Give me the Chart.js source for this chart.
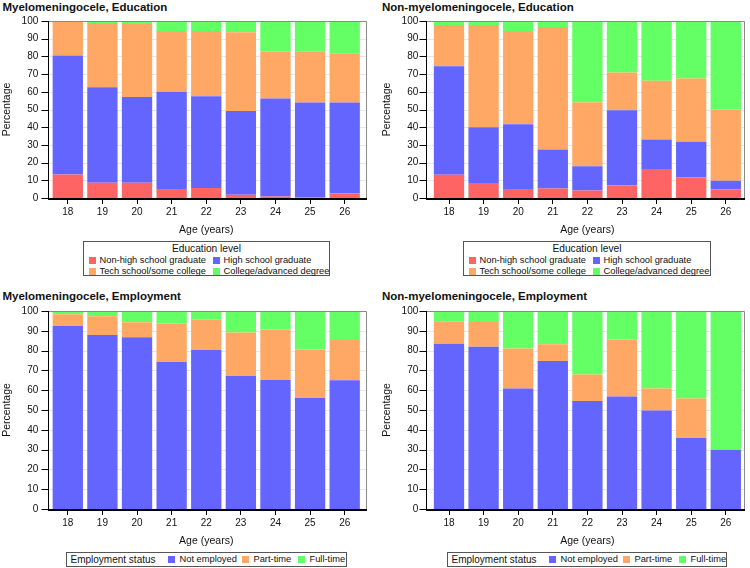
<!DOCTYPE html>
<html><head><meta charset="utf-8">
<script src="https://cdn.jsdelivr.net/npm/chart.js@4"></script>
<style>
body{margin:0;width:750px;height:568px;background:#fff;position:relative;overflow:hidden;font-family:"Liberation Sans",Arial,sans-serif;color:#111}
.t{position:absolute;font-weight:bold;font-size:11.5px;line-height:14px;white-space:nowrap}
canvas{position:absolute}
.lg{position:absolute;border:1px solid #555;box-sizing:border-box;white-space:nowrap}
.lg span{position:absolute;line-height:11px}
.lg i{position:absolute;width:7px;height:7px}
</style>
</head><body>
<div class="t" style="left:2.5px;top:0px">Myelomeningocele, Education</div>
<div class="t" style="left:382px;top:0px">Non-myelomeningocele, Education</div>
<div class="t" style="left:2.5px;top:289px">Myelomeningocele, Employment</div>
<div class="t" style="left:382px;top:289px">Non-myelomeningocele, Employment</div>
<canvas id="c1" width="375" height="236" style="left:0;top:0"></canvas>
<canvas id="c2" width="375" height="236" style="left:375px;top:0"></canvas>
<canvas id="c3" width="375" height="257" style="left:0;top:290px"></canvas>
<canvas id="c4" width="375" height="257" style="left:375px;top:290px"></canvas>
<div id="l1" class="lg" style="left:83px;top:241px;width:247px;height:35px"></div>
<div id="l2" class="lg" style="left:463px;top:241px;width:248px;height:35px"></div>
<div id="l3" class="lg" style="left:66px;top:552px;width:281px;height:15px"></div>
<div id="l4" class="lg" style="left:447px;top:552px;width:280px;height:15px"></div>
<script>
const ages = ['18','19','20','21','22','23','24','25','26'];
const yTicks = [0,10,20,30,40,50,60,70,80,90,100];
const eduLevels = ['Non-high school graduate','High school graduate','Tech school/some college','College/advanced degree'];
const empLevels = ['Not employed','Part-time','Full-time'];
const eduTitle = 'Education level';
const empTitle = 'Employment status';

const myeloEduNonHS   = [13.3, 8.6, 8.6, 5.1, 5.6, 1.9, 0.8, 0.4, 2.6];
const myeloEduHS      = [67.2, 54.0, 48.4, 54.9, 51.9, 47.3, 55.4, 53.6, 51.4];
const myeloEduTech    = [19.5, 36.3, 41.3, 34.4, 36.9, 44.4, 26.5, 28.9, 27.8];
const myeloEduCollege = [0, 1.1, 1.7, 5.6, 5.6, 6.4, 17.3, 17.1, 18.2];

const nonMyeloEduNonHS   = [13.2, 8.5, 5.1, 5.3, 4.3, 7.1, 16.4, 11.7, 4.9];
const nonMyeloEduHS      = [61.2, 31.5, 36.6, 22.1, 13.7, 42.5, 16.7, 20.1, 4.9];
const nonMyeloEduTech    = [23.3, 57.7, 52.7, 69.2, 36.1, 21.3, 33.1, 35.7, 40.0];
const nonMyeloEduCollege = [2.3, 2.3, 5.6, 3.4, 45.9, 29.1, 33.8, 32.5, 50.2];

const myeloEmpNone = [92.4, 87.9, 86.7, 74.3, 80.3, 67.2, 65.2, 56.0, 65.0];
const myeloEmpPart = [5.9, 9.4, 7.6, 19.3, 15.3, 22.0, 25.4, 24.5, 20.4];
const myeloEmpFull = [1.7, 2.7, 5.7, 6.4, 4.4, 10.8, 9.4, 19.5, 14.6];

const nonMyeloEmpNone = [83.4, 82.0, 60.8, 74.8, 54.5, 56.8, 49.7, 35.8, 29.9];
const nonMyeloEmpPart = [11.4, 12.5, 20.2, 8.4, 13.4, 28.7, 11.1, 20.0, 0];
const nonMyeloEmpFull = [5.2, 5.5, 19.0, 16.8, 32.1, 14.5, 39.2, 44.2, 70.1];

const eduColors = ['#FF6464', '#6464FF', '#FFA866', '#64FF64'];
const empColors = ['#6464FF', '#FFA866', '#64FF64'];

Chart.defaults.font.family = '"Liberation Sans", Arial, sans-serif';
Chart.defaults.color = '#111';

function makeChart(id, series, labels, colors, g) {
  const frame = {
    id: 'frame',
    beforeDatasetsDraw(chart) {
      const {ctx, chartArea: a, scales: {y}} = chart;
      ctx.save();
      ctx.strokeStyle = '#e6e6e6'; ctx.lineWidth = 1;
      ctx.beginPath();
      y.ticks.forEach(t => {
        const py = Math.round(y.getPixelForValue(t.value)) + 0.5;
        ctx.moveTo(g.frameLeft, py); ctx.lineTo(g.frameRight, py);
      });
      ctx.stroke();
      ctx.restore();
    },
    afterDatasetsDraw(chart) {
      const {ctx, chartArea: a, scales: {y}} = chart;
      const L = Math.round(g.frameLeft) + 0.5, R = Math.round(g.frameRight) - 0.5;
      const T = Math.round(a.top) + 0.5, B = Math.round(a.bottom);
      ctx.save();
      ctx.lineWidth = 1;
      ctx.strokeStyle = '#8a8a8a';
      ctx.beginPath(); ctx.moveTo(L, T); ctx.lineTo(R, T); ctx.lineTo(R, B); ctx.stroke();
      ctx.strokeStyle = '#000';
      ctx.beginPath(); ctx.moveTo(L, T - 0.5); ctx.lineTo(L, B);
      y.ticks.forEach(t => {
        const py = Math.round(y.getPixelForValue(t.value)) + 0.5;
        ctx.moveTo(L - 7, py); ctx.lineTo(L, py);
      });
      ctx.stroke();
      ctx.lineWidth = 2;
      ctx.beginPath(); ctx.moveTo(L - 0.5, B + 1); ctx.lineTo(R + 0.5, B + 1); ctx.stroke();
      ctx.restore();
    }
  };
  return new Chart(document.getElementById(id), {
    type: 'bar',
    data: {
      labels: ages,
      datasets: series.map((d, i) => ({
        label: labels[i], data: d, backgroundColor: colors[i], borderWidth: 0,
        barPercentage: 0.876, categoryPercentage: 1
      }))
    },
    options: {
      responsive: false, animation: false, devicePixelRatio: 1,
      layout: {padding: {left: 0, right: g.width - g.areaRight, top: 21, bottom: 0}},
      plugins: {legend: {display: false}, title: {display: false}, tooltip: {enabled: false}},
      scales: {
        x: {
          stacked: true,
          grid: {display: true, drawOnChartArea: false, drawTicks: true, tickLength: 6, tickColor: '#000', offset: false},
          border: {display: false},
          ticks: {font: {size: 10}, padding: 2, color: '#111'},
          title: {display: true, text: 'Age (years)', font: {size: 10.5}, padding: {top: 0, bottom: 0}, color: '#111'},
          afterFit(s) { s.height = 38; }
        },
        y: {
          stacked: true, min: 0, max: 100,
          afterBuildTicks(s) { s.ticks = yTicks.map(v => ({value: v})); },
          grid: {display: false, drawTicks: false},
          border: {display: false},
          ticks: {font: {size: 10}, padding: g.areaLeft - g.labelRight, color: '#111'},
          title: {display: true, text: 'Percentage', font: {size: 10.5}, padding: {top: g.yTitlePad, bottom: 0}, color: '#111'},
          afterFit(s) { s.width = g.areaLeft; }
        }
      }
    },
    plugins: [frame]
  });
}

const leftGeo = {width: 375, areaLeft: 50.5, areaRight: 362, frameLeft: 48, frameRight: 367, labelRight: 38.3, yTitlePad: 0.4};
const rightGeo = {width: 375, areaLeft: 56.7, areaRight: 368.1, frameLeft: 51, frameRight: 370, labelRight: 43.3, yTitlePad: 6};

makeChart('c1', [myeloEduNonHS, myeloEduHS, myeloEduTech, myeloEduCollege], eduLevels, eduColors, leftGeo);
makeChart('c2', [nonMyeloEduNonHS, nonMyeloEduHS, nonMyeloEduTech, nonMyeloEduCollege], eduLevels, eduColors, rightGeo);
makeChart('c3', [myeloEmpNone, myeloEmpPart, myeloEmpFull], empLevels, empColors, leftGeo);
makeChart('c4', [nonMyeloEmpNone, nonMyeloEmpPart, nonMyeloEmpFull], empLevels, empColors, rightGeo);

function el(parent, tag, style, text) {
  const e = document.createElement(tag);
  Object.assign(e.style, style);
  if (text) e.textContent = text;
  parent.appendChild(e);
  return e;
}
function eduLegend(id) {
  const box = document.getElementById(id);
  el(box, 'span', {left: '0', width: '100%', textAlign: 'center', top: '1px', fontSize: '10.2px', lineHeight: '12px'}, eduTitle);
  const slots = [[4.5, 14], [128.5, 14], [4.5, 25], [128.5, 25]];
  eduLevels.forEach((lab, i) => {
    const [x, y] = slots[i];
    el(box, 'i', {left: x + 'px', top: (y + 0.5) + 'px', background: eduColors[i]});
    el(box, 'span', {left: (x + 11) + 'px', top: (y - 1.5) + 'px', fontSize: '9.3px'}, lab);
  });
}
function empLegend(id) {
  const box = document.getElementById(id);
  el(box, 'span', {left: '3.5px', top: '0.5px', fontSize: '10px', lineHeight: '12px'}, empTitle);
  const xs = [101, 175, 231];
  empLevels.forEach((lab, i) => {
    el(box, 'i', {left: xs[i] + 'px', top: '3px', background: empColors[i]});
    el(box, 'span', {left: (xs[i] + 11.5) + 'px', top: '1px', fontSize: '9.3px'}, lab);
  });
}
eduLegend('l1'); eduLegend('l2'); empLegend('l3'); empLegend('l4');
</script>
</body></html>
